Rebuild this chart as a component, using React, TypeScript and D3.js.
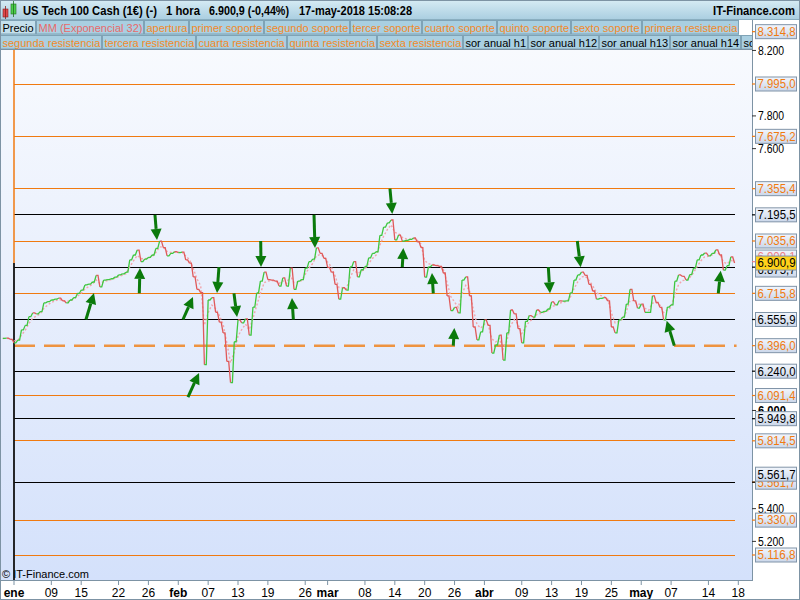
import React, { useMemo } from 'react';
import * as d3 from 'd3';

// ---------- data ----------
const holidays = ['2018-01-01', '2018-03-30'];
const firstTradingDay = '2018-01-02';

const tickDates = [
  '2018-01-02', '2018-01-09', '2018-01-15', '2018-01-22', '2018-01-26',
  '2018-02-01', '2018-02-07', '2018-02-13', '2018-02-19', '2018-02-26',
  '2018-03-01', '2018-03-08', '2018-03-14', '2018-03-20', '2018-03-26',
  '2018-04-02', '2018-04-09', '2018-04-13', '2018-04-19', '2018-04-25',
  '2018-05-01', '2018-05-07', '2018-05-14', '2018-05-18',
];
const tickLabels = [
  'ene', '09', '15', '22', '26', 'feb', '07', '13', '19', '26',
  'mar', '08', '14', '20', '26', 'abr', '09', '13', '19', '25',
  'may', '07', '14', '18',
];

// closes sampled every half trading day, starting 1.5 days before Jan 2
const firstSampleDay = -1.5;
const sampleStep = 0.5;
const closes = [
  6440, 6442, 6435, 6413, 6430, 6492, 6520, 6573, 6596, 6590,
  6604, 6657, 6665, 6675, 6680, 6687, 6670, 6657, 6675, 6690,
  6715, 6736, 6767, 6772, 6785, 6825, 6755, 6797, 6800, 6805,
  6815, 6828, 6835, 6845, 6920, 6950, 6980, 6910, 6925, 6935,
  6950, 6990, 7035, 6995, 6945, 6960, 6970, 6965, 6968, 6920,
  6900, 6816, 6740, 6720, 6280, 6675, 6690, 6600, 6540, 6474,
  6300, 6170, 6420, 6553, 6535, 6560, 6460, 6632, 6718, 6790,
  6846, 6800, 6797, 6790, 6760, 6810, 6760, 6870, 6740, 6790,
  6800, 6870, 6910, 6925, 6993, 6960, 6930, 6875, 6845, 6770,
  6680, 6750, 6735, 6877, 6910, 6816, 6860, 6880, 6932, 6960,
  6970, 7070, 7120, 7146, 7164, 7042, 7072, 7035, 7040, 7045,
  7054, 7030, 6995, 6815, 6877, 6889, 6885, 6880, 6840, 6700,
  6610, 6630, 6596, 6797, 6816, 6700, 6510, 6431, 6480, 6553,
  6520, 6351, 6400, 6461, 6308, 6474, 6614, 6590, 6500, 6413,
  6545, 6580, 6571, 6614, 6600, 6605, 6620, 6663, 6645, 6670,
  6668, 6670, 6718, 6797, 6828, 6845, 6825, 6770, 6730, 6680,
  6685, 6690, 6670, 6510, 6474, 6553, 6571, 6650, 6740, 6670,
  6626, 6650, 6600, 6600, 6700, 6660, 6630, 6553, 6632, 6645,
  6790, 6828, 6820, 6797, 6830, 6870, 6920, 6950, 6962, 6945,
  6960, 6981, 6950, 6858, 6885, 6938, 6901,
];
const emaPeriod = 3; // ~32 hourly bars expressed in half-day samples

const orangeLevels = [7995.0, 7675.2, 7355.4, 7035.6, 6715.8, 6091.4, 5814.5, 5561.7, 5330.0, 5116.8];
const blackLevels = [7195.5, 6875.7, 6555.9, 6240.0, 5949.8, 5561.7];
const openLevel = 6396.0;
const annualTopLevel = 8314.8;
const lastPrice = 6900.9;

// arrows: tail (day, price) -> head (day, price)
const arrowTailDay = [9.64, 16.78, 18.88, 22.63, 23.3, 27.45, 29.46, 33.04, 37.41, 40.18, 50.35, 52.0, 56.15, 58.83, 71.56, 75.44, 88.43, 94.32];
const arrowTailPrice = [6555.9, 6715.8, 7195.5, 6555.9, 6082, 6875.7, 6715.8, 7035.6, 6555.9, 7195.5, 7355.4, 6875.7, 6715.8, 6396.0, 6875.7, 7035.6, 6396.0, 6715.8];
const arrowHeadDay = [10.71, 16.87, 19.15, 23.97, 24.78, 27.19, 29.87, 33.08, 37.23, 40.31, 50.66, 52.14, 55.98, 58.97, 71.78, 75.89, 87.41, 94.64];
const arrowHeadPrice = [6718, 6871, 7042, 6693, 6229, 6718, 6571, 6877, 6687, 6993, 7201, 6993, 6840, 6504, 6716, 6875, 6549, 6854];

const legendRow1 = ['Precio', 'MM (Exponencial 32)', 'apertura', 'primer soporte', 'segundo soporte', 'tercer soporte', 'cuarto soporte', 'quinto soporte', 'sexto soporte', 'primera resistencia'];
const legendRow1Kind = ['price', 'ema', 'lvl', 'lvl', 'lvl', 'lvl', 'lvl', 'lvl', 'lvl', 'lvl'];
const legendRow2 = ['segunda resistencia', 'tercera resistencia', 'cuarta resistencia', 'quinta resistencia', 'sexta resistencia', 'sor anual h1', 'sor anual h12', 'sor anual h13', 'sor anual h14', 'sor anual h15'];
const legendRow2Kind = ['lvl', 'lvl', 'lvl', 'lvl', 'lvl', 'price', 'price', 'price', 'price', 'price'];

const titleParts = ['US Tech 100 Cash (1€) (-)', '1 hora', '6.900,9 (-0,44%)', '17-may-2018 15:08:28'];

// ---------- helpers ----------
function tradingIndex(s: string) {
  const start = Date.parse(firstTradingDay + 'T00:00:00Z');
  const end = Date.parse(s + 'T00:00:00Z');
  let n = 0;
  for (let t = start; t < end; t += 86400000) {
    const d = new Date(t);
    const wd = d.getUTCDay();
    const iso = d.toISOString().slice(0, 10);
    if (wd !== 0 && wd !== 6 && !holidays.includes(iso)) n++;
  }
  return n;
}

const locale = d3.formatLocale({ decimal: ',', thousands: '.', grouping: [3], currency: ['', ''] });
const fmt1 = locale.format(',.1f');
const fmt0 = locale.format(',.0f');

const FONT = "'Liberation Sans', Arial, sans-serif";
const ORANGE = '#f07a10';
const ORANGE_TXT = '#f28a2a';
const GREEN = '#3fc63f';
const RED = '#e05a5a';
const ARROW = '#0b7a0b';
const FRAME = '#7d93a4';

export default function App() {
  const PL = 1, PR = 752, PT = 49, PB = 580;
  const y = d3.scaleLinear().domain([5116.8, 7995.0]).range([555, 84]);
  const x = d3.scaleLinear().domain([0, tradingIndex('2018-05-18')]).range([14, 738.3]);

  const days = closes.map((_, i) => firstSampleDay + i * sampleStep);
  const lastX = x(days[days.length - 1]);

  const ema = useMemo(() => {
    const a = 2 / (emaPeriod + 1);
    const out: number[] = [];
    closes.forEach((c, i) => out.push(i === 0 ? c : a * c + (1 - a) * out[i - 1]));
    return out;
  }, []);

  let greenD = '';
  let redD = '';
  for (let i = 1; i < closes.length; i++) {
    const xm = (x(days[i - 1]) + x(days[i])) / 2;
    const seg = `M${x(days[i - 1])},${y(closes[i - 1])}L${xm},${y(closes[i - 1])}L${x(days[i])},${y(closes[i])}`;
    if (closes[i] >= closes[i - 1]) greenD += seg; else redD += seg;
  }
  const emaLine = d3.line<number>().x((_, i) => x(days[i])).y(d => y(d))(ema) || '';

  const measure = useMemo(() => {
    const ctx = document.createElement('canvas').getContext('2d')!;
    ctx.font = `11px ${FONT}`;
    return (s: string) => ctx.measureText(s).width;
  }, []);

  const legendColor = (k: string) => (k === 'price' ? '#000' : k === 'ema' ? '#e86a6a' : ORANGE_TXT);
  const layoutRow = (items: string[]) => {
    let cx = 0;
    return items.map(t => {
      const tw = measure(t);
      const w = Math.round(tw + 3.5);
      const r = { t, x: cx, w, tw };
      cx += w + 1;
      return r;
    });
  };
  const row1 = layoutRow(legendRow1);
  const row2 = layoutRow(legendRow2);
  const row1End = Math.min(PR, row1[row1.length - 1].x + row1[row1.length - 1].w + 1);

  // axis tick labels
  const priceY = y(lastPrice);
  const boxVals = [annualTopLevel, ...orangeLevels, ...blackLevels, openLevel];
  const axisTicks = d3.range(5000, 8201, 200).filter(v => {
    const yy = y(v);
    const hidden = boxVals.some(b => Math.abs(y(b) - yy) < 7.5);
    return yy > 44 && yy < 565 && Math.abs(yy - priceY) > 18 && !hidden;
  });

  type Lbl = { v: number; color: string; txt: string; dy: number };
  const labels: Lbl[] = [];
  const emaLast = ema[ema.length - 1];
  labels.push({ v: emaLast, color: '#ef7f86', txt: fmt1(emaLast), dy: priceY - 6 - y(emaLast) });
  orangeLevels.forEach(v => labels.push({ v, color: ORANGE, txt: fmt1(v), dy: 0 }));
  labels.push({ v: openLevel, color: ORANGE, txt: fmt1(openLevel), dy: 0 });
  blackLevels.forEach(v => {
    let dy = orangeLevels.includes(v) ? -8 : 0;
    if (Math.abs(y(v) - priceY) < 10) dy = priceY + 7 - y(v);
    labels.push({ v, color: '#000', txt: fmt1(v), dy });
  });

  const tickDays = tickDates.map(tradingIndex);

  const arrows = arrowTailDay.map((_, i) => {
    const x0 = x(arrowTailDay[i]), y0 = y(arrowTailPrice[i]);
    const x1 = x(arrowHeadDay[i]), y1 = y(arrowHeadPrice[i]);
    const L = Math.hypot(x1 - x0, y1 - y0);
    const ux = (x1 - x0) / L, uy = (y1 - y0) / L;
    const hl = 11, hw = 5.5;
    const bx = x1 - ux * hl, by = y1 - uy * hl;
    const pts = [[x1, y1], [bx - uy * hw, by + ux * hw], [bx + uy * hw, by - ux * hw]];
    return { x0, y0, bx, by, pts };
  });

  const boxLabel = (key: string, yy: number, txt: string, color: string, fill = 'url(#boxg)') => (
    <g key={key}>
      <rect x={755.5} y={yy - 7} width={41} height={14} fill={fill} stroke="#8094a8" strokeWidth={1} />
      <text x={757.5} y={yy} dy="0.36em" fontSize={12} fill={color} textLength={38} lengthAdjust="spacingAndGlyphs">{txt}</text>
    </g>
  );

  const titleX = [23, 166, 209, 299];
  const titleLen = [134, 34, 80, 113];

  return (
    <svg width={800} height={600} style={{ position: 'fixed', left: 0, top: 0 }} fontFamily={FONT}>
      <defs>
        <linearGradient id="plotg" x1="0" y1="0" x2="0" y2="1">
          <stop offset="0" stopColor="#f8fafe" />
          <stop offset="1" stopColor="#d4e1fb" />
        </linearGradient>
        <linearGradient id="headg" x1="0" y1="0" x2="0" y2="1">
          <stop offset="0" stopColor="#d6ebf4" />
          <stop offset="1" stopColor="#a9cde0" />
        </linearGradient>
        <linearGradient id="boxg" x1="0" y1="0" x2="0" y2="1">
          <stop offset="0" stopColor="#f2f6fc" />
          <stop offset="1" stopColor="#cbd7ea" />
        </linearGradient>
        <clipPath id="plotclip">
          <rect x={PL} y={PT} width={PR - PL} height={PB - PT} />
        </clipPath>
        <clipPath id="legclip">
          <rect x={0} y={20} width={PR} height={30} />
        </clipPath>
      </defs>

      <rect x={0} y={0} width={800} height={600} fill="#fff" />
      <rect x={PL} y={PT} width={PR - PL} height={PB - PT} fill="url(#plotg)" />

      <g clipPath="url(#plotclip)">
        {orangeLevels.map((v, i) => (
          <line key={'o' + i} x1={x(0)} x2={lastX} y1={y(v)} y2={y(v)} stroke={ORANGE} strokeWidth={1} shapeRendering="crispEdges" />
        ))}
        {blackLevels.map((v, i) => (
          <line key={'b' + i} x1={x(0)} x2={lastX} y1={y(v)} y2={y(v)} stroke="#000" strokeWidth={1} shapeRendering="crispEdges" />
        ))}
        <line x1={x(0)} x2={lastX + 2} y1={y(openLevel)} y2={y(openLevel)} stroke="#f08a2c" strokeWidth={2.5} strokeDasharray="21,9" opacity={0.9} />

        <text x={2} y={578} fontSize={11} fill="#000">© IT-Finance.com</text>
        <line x1={x(0)} x2={x(0)} y1={PT} y2={263} stroke={ORANGE} strokeWidth={1.5} />
        <line x1={x(0)} x2={x(0)} y1={263} y2={PB} stroke="#111" strokeWidth={1.8} />

        <path d={emaLine} fill="none" stroke="#f2a6ac" strokeWidth={1.4} strokeDasharray="2,2" />
        <path d={redD} fill="none" stroke={RED} strokeWidth={1.3} />
        <path d={greenD} fill="none" stroke={GREEN} strokeWidth={1.3} />

        {arrows.map((a, i) => (
          <g key={'a' + i}>
            <line x1={a.x0} y1={a.y0} x2={a.bx} y2={a.by} stroke={ARROW} strokeWidth={3} />
            <polygon points={a.pts.map(p => p.join(',')).join(' ')} fill={ARROW} />
          </g>
        ))}
      </g>

      {/* frame */}
      <line x1={0.5} x2={0.5} y1={PT} y2={PB} stroke={FRAME} />
      <line x1={PR + 0.5} x2={PR + 0.5} y1={20} y2={PB + 1} stroke={FRAME} />
      <line x1={0} x2={PR + 1} y1={PB + 0.5} y2={PB + 0.5} stroke={FRAME} />

      {/* right axis */}
      {axisTicks.map(v => (
        <g key={'t' + v}>
          <line x1={PR} x2={PR + 4} y1={y(v)} y2={y(v)} stroke="#333" />
          <text x={758} y={y(v)} dy="0.36em" fontSize={12} fill="#000" fontWeight={v === 6000 ? 'bold' : 'normal'} textLength={v === 6000 ? 28 : 26} lengthAdjust="spacingAndGlyphs">{fmt0(v)}</text>
        </g>
      ))}
      {labels.map((l, i) => (
        <line key={'lt' + i} x1={PR} x2={PR + 4} y1={y(l.v)} y2={y(l.v)} stroke={l.color} strokeWidth={1.2} />
      ))}
      {labels.map((l, i) => boxLabel('l' + i, y(l.v) + l.dy, l.txt, l.color))}
      {boxLabel('price', priceY, fmt1(lastPrice), '#000', '#ffd21a')}

      {/* header */}
      <rect x={0} y={0} width={800} height={20} fill="url(#headg)" />
      <line x1={0} x2={800} y1={19.5} y2={19.5} stroke="#8aaec0" />
      <rect x={0} y={20} width={PR} height={29} fill="#a3c8da" />
      <rect x={row1End} y={20} width={PR - row1End} height={15} fill="#fff" />
      <g clipPath="url(#legclip)">
        {row1.map((r, i) => (
          <g key={'r1' + i}>
            <rect x={r.x + 0.5} y={20.5} width={r.w} height={13.5} fill={i === 0 ? '#c4e0ec' : '#a9cfe1'} stroke="#7fa3b6" />
            <text x={r.x + 2.5} y={31.5} fontSize={11} fill={legendColor(legendRow1Kind[i])}>{r.t}</text>
          </g>
        ))}
        {row2.map((r, i) => (
          <g key={'r2' + i}>
            <rect x={r.x + 0.5} y={35.5} width={r.w} height={13.5} fill="#a9cfe1" stroke="#7fa3b6" />
            <text x={r.x + 2.5} y={46.5} fontSize={11} fill={legendColor(legendRow2Kind[i])}>{r.t}</text>
          </g>
        ))}
      </g>
      <line x1={0} x2={PR} y1={49.5} y2={49.5} stroke={FRAME} />
      {/* top annual label sits in the axis header area */}
      <line x1={PR} x2={PR + 4} y1={y(annualTopLevel)} y2={y(annualTopLevel)} stroke={ORANGE} strokeWidth={1.2} />
      {boxLabel('top', y(annualTopLevel), fmt1(annualTopLevel), ORANGE)}

      {/* title */}
      <rect x={3} y={9} width={5} height={8} fill="#e0484a" stroke="#8a2020" strokeWidth={0.6} />
      <line x1={5.5} x2={5.5} y1={6} y2={19} stroke="#8a2020" strokeWidth={0.8} />
      <rect x={11} y={4} width={5} height={10} fill="#4ccf4c" stroke="#207020" strokeWidth={0.6} />
      <line x1={13.5} x2={13.5} y1={1} y2={17} stroke="#207020" strokeWidth={0.8} />
      {titleParts.map((t, i) => (
        <text key={'tp' + i} x={titleX[i]} y={15} fontSize={12} fontWeight="bold" fill="#000" textLength={titleLen[i]} lengthAdjust="spacingAndGlyphs">{t}</text>
      ))}
      <text x={713} y={15} fontSize={12} fontWeight="bold" fill="#000" textLength={82} lengthAdjust="spacingAndGlyphs">IT-Finance.com</text>

      {/* bottom axis */}
      {tickDays.map((d, i) => {
        const isMonth = isNaN(Number(tickLabels[i]));
        return (
          <g key={'x' + i}>
            <line x1={x(d)} x2={x(d)} y1={PB + 1} y2={PB + 5} stroke={FRAME} />
            <text x={x(d)} y={597} fontSize={12} textAnchor="middle" fontWeight={isMonth ? 'bold' : 'normal'} fill="#000">{tickLabels[i]}</text>
          </g>
        );
      })}
      <rect x={0.5} y={0.5} width={799} height={599} fill="none" stroke={FRAME} />
    </svg>
  );
}
